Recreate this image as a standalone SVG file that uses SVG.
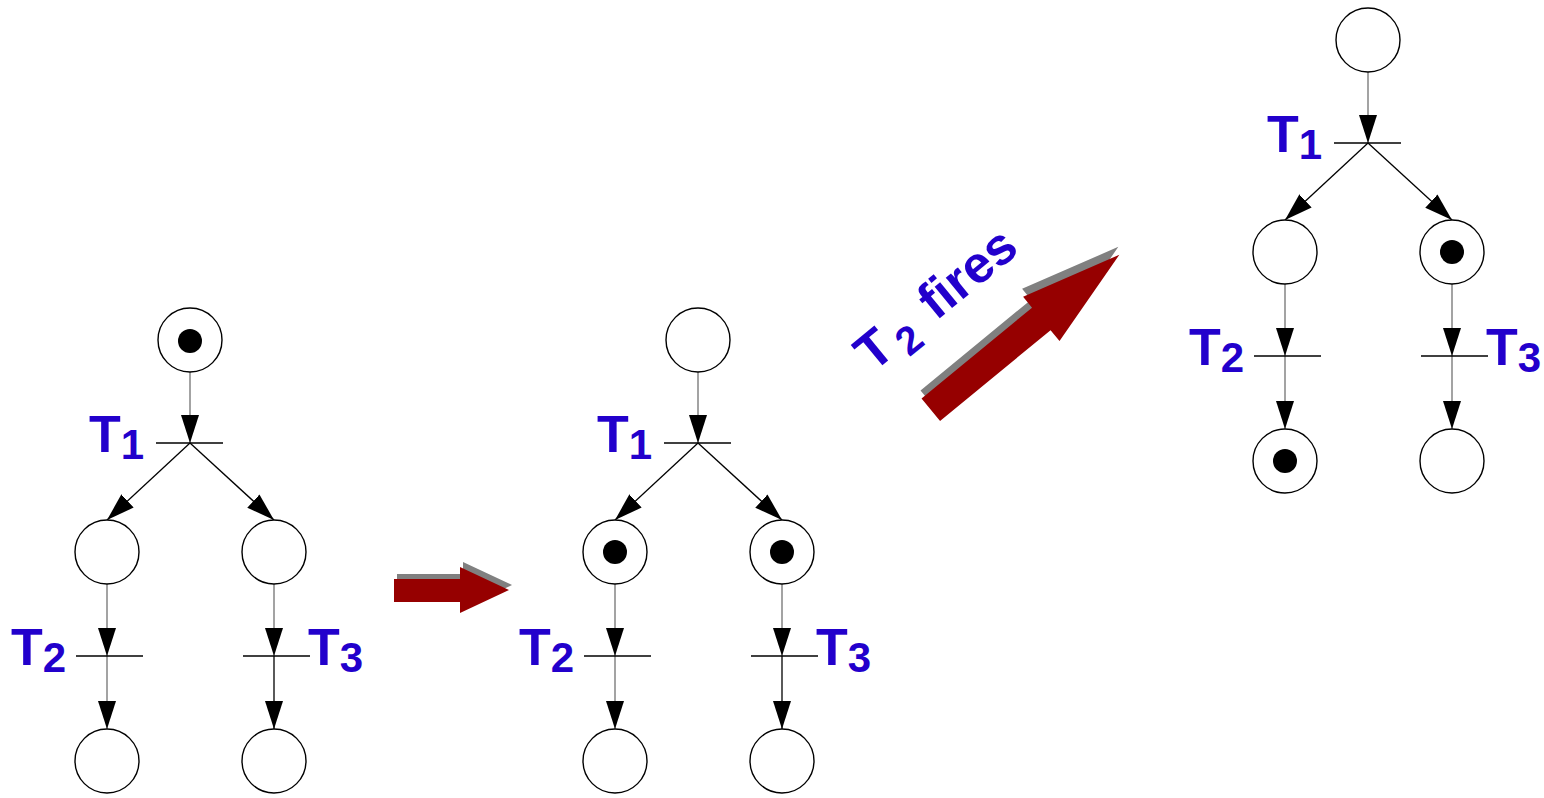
<svg xmlns="http://www.w3.org/2000/svg" width="1544" height="798" viewBox="0 0 1544 798">
<style>
.place{fill:#fff;stroke:#000;stroke-width:1.4}
.token{fill:#000}
.bar{stroke:#000;stroke-width:1.4}
.arcg{stroke:#999;stroke-width:1.8;fill:none}
.arck{stroke:#000;stroke-width:1.3;fill:none}
.lbl{font-family:"Liberation Sans",Arial,sans-serif;font-weight:bold;font-size:52px;fill:#2200cc}
.sub{font-size:42px}
.big{fill:#960000}
.shadow{fill:#808080}
</style>
<defs>
<marker id="ah" viewBox="0 0 28 18" refX="28" refY="9" markerWidth="28" markerHeight="18" orient="auto" markerUnits="userSpaceOnUse">
<path d="M0,0 L28,9 L0,18 z" fill="#000"/>
</marker>
</defs>
<rect width="1544" height="798" fill="#fff"/>

<!-- Net 1 -->
<g id="net1">
<g id="net1-connectors">
<line class="arcg" x1="190" y1="372" x2="190" y2="443" marker-end="url(#ah)"/>
<line class="arck" x1="190" y1="443" x2="107" y2="520" marker-end="url(#ah)"/>
<line class="arck" x1="190" y1="443" x2="274" y2="520" marker-end="url(#ah)"/>
<line class="arcg" x1="107" y1="584" x2="107" y2="656" marker-end="url(#ah)"/>
<line class="arcg" x1="107" y1="656" x2="107" y2="729" marker-end="url(#ah)"/>
<line class="arcg" x1="274" y1="584" x2="274" y2="656" marker-end="url(#ah)"/>
<line class="arck" x1="274" y1="656" x2="274" y2="729" marker-end="url(#ah)"/>
</g>
<g id="net1-p1"><circle class="place" cx="190" cy="340" r="32"/><circle class="token" cx="190" cy="341" r="12"/></g>
<g id="net1-t1"><line class="bar" x1="156" y1="443" x2="223" y2="443"/><text class="lbl" x="89" y="452">T<tspan class="sub" dy="7">1</tspan></text></g>
<g id="net1-p2"><circle class="place" cx="107" cy="552" r="32"/></g>
<g id="net1-p3"><circle class="place" cx="274" cy="552" r="32"/></g>
<g id="net1-t2"><line class="bar" x1="76" y1="656" x2="143" y2="656"/><text class="lbl" x="11" y="665">T<tspan class="sub" dy="7">2</tspan></text></g>
<g id="net1-t3"><line class="bar" x1="243" y1="656" x2="310" y2="656"/><text class="lbl" x="308" y="665">T<tspan class="sub" dy="7">3</tspan></text></g>
<g id="net1-p4"><circle class="place" cx="107" cy="761" r="32"/></g>
<g id="net1-p5"><circle class="place" cx="274" cy="761" r="32"/></g>
</g>

<!-- Net 2 -->
<g id="net2" transform="translate(508,0)">
<g id="net2-connectors">
<line class="arcg" x1="190" y1="372" x2="190" y2="443" marker-end="url(#ah)"/>
<line class="arck" x1="190" y1="443" x2="107" y2="520" marker-end="url(#ah)"/>
<line class="arck" x1="190" y1="443" x2="274" y2="520" marker-end="url(#ah)"/>
<line class="arcg" x1="107" y1="584" x2="107" y2="656" marker-end="url(#ah)"/>
<line class="arcg" x1="107" y1="656" x2="107" y2="729" marker-end="url(#ah)"/>
<line class="arcg" x1="274" y1="584" x2="274" y2="656" marker-end="url(#ah)"/>
<line class="arck" x1="274" y1="656" x2="274" y2="729" marker-end="url(#ah)"/>
</g>
<g id="net2-p1"><circle class="place" cx="190" cy="340" r="32"/></g>
<g id="net2-t1"><line class="bar" x1="156" y1="443" x2="223" y2="443"/><text class="lbl" x="89" y="452">T<tspan class="sub" dy="7">1</tspan></text></g>
<g id="net2-p2"><circle class="place" cx="107" cy="552" r="32"/><circle class="token" cx="107" cy="552" r="12"/></g>
<g id="net2-p3"><circle class="place" cx="274" cy="552" r="32"/><circle class="token" cx="274" cy="552" r="12"/></g>
<g id="net2-t2"><line class="bar" x1="76" y1="656" x2="143" y2="656"/><text class="lbl" x="11" y="665">T<tspan class="sub" dy="7">2</tspan></text></g>
<g id="net2-t3"><line class="bar" x1="243" y1="656" x2="310" y2="656"/><text class="lbl" x="308" y="665">T<tspan class="sub" dy="7">3</tspan></text></g>
<g id="net2-p4"><circle class="place" cx="107" cy="761" r="32"/></g>
<g id="net2-p5"><circle class="place" cx="274" cy="761" r="32"/></g>
</g>

<!-- Net 3 -->
<g id="net3" transform="translate(1178,-300)">
<g id="net3-connectors">
<line class="arcg" x1="190" y1="372" x2="190" y2="443" marker-end="url(#ah)"/>
<line class="arck" x1="190" y1="443" x2="107" y2="520" marker-end="url(#ah)"/>
<line class="arck" x1="190" y1="443" x2="274" y2="520" marker-end="url(#ah)"/>
<line class="arcg" x1="107" y1="584" x2="107" y2="656" marker-end="url(#ah)"/>
<line class="arcg" x1="107" y1="656" x2="107" y2="729" marker-end="url(#ah)"/>
<line class="arcg" x1="274" y1="584" x2="274" y2="656" marker-end="url(#ah)"/>
<line class="arcg" x1="274" y1="656" x2="274" y2="729" marker-end="url(#ah)"/>
</g>
<g id="net3-p1"><circle class="place" cx="190" cy="340" r="32"/></g>
<g id="net3-t1"><line class="bar" x1="156" y1="443" x2="223" y2="443"/><text class="lbl" x="89" y="452">T<tspan class="sub" dy="7">1</tspan></text></g>
<g id="net3-p2"><circle class="place" cx="107" cy="552" r="32"/></g>
<g id="net3-p3"><circle class="place" cx="274" cy="552" r="32"/><circle class="token" cx="274" cy="552" r="12"/></g>
<g id="net3-t2"><line class="bar" x1="76" y1="656" x2="143" y2="656"/><text class="lbl" x="11" y="665">T<tspan class="sub" dy="7">2</tspan></text></g>
<g id="net3-t3"><line class="bar" x1="243" y1="656" x2="310" y2="656"/><text class="lbl" x="308" y="665">T<tspan class="sub" dy="7">3</tspan></text></g>
<g id="net3-p4"><circle class="place" cx="107" cy="761" r="32"/><circle class="token" cx="107" cy="761" r="12"/></g>
<g id="net3-p5"><circle class="place" cx="274" cy="761" r="32"/></g>
</g>

<!-- Big step arrows -->
<g id="step-arrow-1">
<polygon class="shadow" points="397,574 463,574 463,562 512,585 463,608 463,597 397,597"/>
<polygon class="big" points="394,579 460,579 460,567 509,590 460,613 460,602 394,602"/>
</g>
<g id="step-arrow-2">
<polygon class="shadow" transform="translate(929.8,401.7) rotate(-39.4)" points="0,-14.6 143,-14.6 143,-28.7 244,0 143,28.7 143,14.6 0,14.6"/>
<polygon class="big" transform="translate(930.8,409.7) rotate(-39.4)" points="0,-14.6 143,-14.6 143,-28.7 244,0 143,28.7 143,14.6 0,14.6"/>
<text class="lbl" font-size="53" transform="translate(873,373) rotate(-39.4)">T<tspan font-size="40" dx="6" dy="11">2</tspan><tspan dx="7" dy="-11"> fires</tspan></text>
</g>
</svg>
